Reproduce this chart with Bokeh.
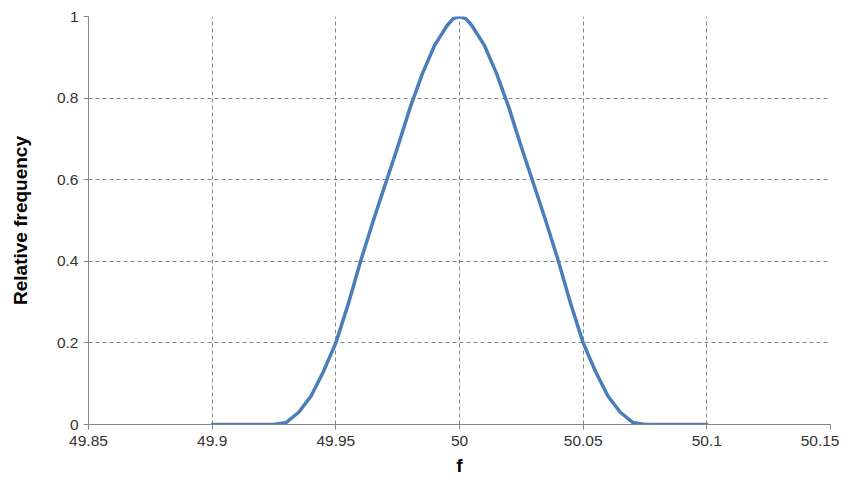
from bokeh.plotting import figure
from bokeh.models import Range1d, FixedTicker
from bokeh.embed import file_html
from bokeh.resources import INLINE

# Data
f_vals = [49.9, 49.905, 49.91, 49.915, 49.92, 49.925, 49.93, 49.935, 49.94, 49.945,
          49.95, 49.955, 49.96, 49.965, 49.97, 49.975, 49.98, 49.985, 49.99, 49.995, 49.9975,
          50.0, 50.0025, 50.005, 50.01, 50.015, 50.02, 50.025, 50.03, 50.035, 50.04, 50.045,
          50.05, 50.055, 50.06, 50.065, 50.07, 50.075, 50.08, 50.085, 50.09, 50.095, 50.1]
rel_freq = [0, 0, 0, 0, 0, 0, 0.005, 0.03, 0.07, 0.13,
            0.2, 0.295, 0.4, 0.497, 0.589, 0.68, 0.776, 0.86, 0.93, 0.978, 0.995,
            1.0, 0.995, 0.978, 0.93, 0.86, 0.776, 0.68, 0.589, 0.497, 0.4, 0.295,
            0.2, 0.13, 0.07, 0.03, 0.005, 0, 0, 0, 0, 0, 0]

x_ticks = [49.85, 49.9, 49.95, 50.0, 50.05, 50.1, 50.15]
x_tick_labels = ["49.85", "49.9", "49.95", "50", "50.05", "50.1", "50.15"]
y_ticks = [0, 0.2, 0.4, 0.6, 0.8, 1.0]
y_tick_labels = ["0", "0.2", "0.4", "0.6", "0.8", "1"]

p = figure(width=839, height=478, output_backend="svg", toolbar_location=None,
           x_range=Range1d(49.85, 50.15), y_range=Range1d(0, 1),
           min_border_left=88, min_border_right=9, min_border_top=16, min_border_bottom=51)
p.outline_line_color = None
p.background_fill_color = "white"
p.border_fill_color = "white"

p.line(f_vals, rel_freq, line_color="#4A7EBB", line_width=3.5, line_join="round", line_cap="round")

font = "Liberation Sans"
for ax in (p.xaxis[0], p.yaxis[0]):
    ax.axis_line_color = "#868686"
    ax.major_tick_line_color = "#868686"
    ax.major_tick_out = 5
    ax.major_tick_in = 0
    ax.minor_tick_line_color = None
    ax.major_label_text_font = font
    ax.major_label_text_font_size = "15.5px"
    ax.major_label_text_color = "#333333"
    ax.axis_label_text_font = font
    ax.axis_label_text_font_style = "bold"
    ax.axis_label_text_font_size = "19px"
    ax.axis_label_text_color = "black"

p.xaxis[0].ticker = FixedTicker(ticks=x_ticks)
p.xaxis[0].major_label_overrides = {t: l for t, l in zip(x_ticks, x_tick_labels)}
p.xaxis[0].major_label_standoff = 6
p.yaxis[0].ticker = FixedTicker(ticks=y_ticks)
p.yaxis[0].major_label_overrides = {t: l for t, l in zip(y_ticks, y_tick_labels)}
p.yaxis[0].major_label_standoff = 5
p.xaxis[0].axis_label = "f"
p.yaxis[0].axis_label = "Relative frequency"
p.xaxis[0].axis_label_standoff = 6
p.yaxis[0].axis_label_standoff = 23

for g in (p.xgrid[0], p.ygrid[0]):
    g.grid_line_color = "#868686"
    g.grid_line_dash = "4 3"
    g.grid_line_width = 1

open("out.html", "w").write(file_html(p, INLINE))
